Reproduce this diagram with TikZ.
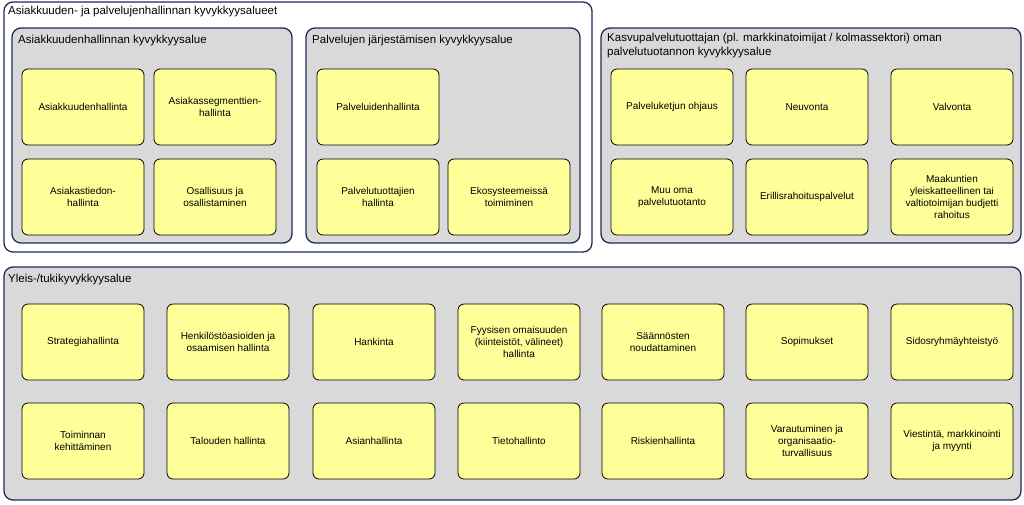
\documentclass[tikz,border=0pt]{standalone}
\usepackage{fontspec}
\setmainfont{Liberation Sans}
\usetikzlibrary{positioning}
\definecolor{navy}{HTML}{1F2A5C}
\definecolor{areagray}{HTML}{D9D9D9}
\definecolor{capyellow}{HTML}{FFFF99}
\tikzset{
  area/.style={draw=navy, line width=1.3pt, fill=areagray, rounded corners=9pt},
  capcell/.style={draw=black, line width=0.8pt, fill=capyellow, rounded corners=6pt,
    minimum width=122pt, minimum height=76pt, align=center,
    font=\fontsize{10}{12}\selectfont},
  areatitle/.style={anchor=north west, font=\fontsize{11.5}{14}\selectfont, inner sep=0pt, align=left}
}
\newcommand{\capbox}[4]{\node[capcell] (#1) at (#2,#3) {#4};}
\begin{document}
\begin{tikzpicture}[x=1pt,y=-1pt]
  \useasboundingbox (0,0) rectangle (1024,504);
  % asiakkuus- ja palvelualueet
  \draw[draw=navy, line width=1.3pt, fill=white, rounded corners=9pt] (4,2) rectangle (592,252);
  \node[areatitle] (t0) at (8,6) {Asiakkuuden- ja palvelujenhallinnan kyvykkyysalueet};
  \draw[area] (12,28) rectangle (292,243);
  \node[areatitle] (tA) at (18,35) {Asiakkuudenhallinnan kyvykkyysalue};
  \draw[area] (306,28) rectangle (580,243);
  \node[areatitle] (tB) at (312,35) {Palvelujen järjestämisen kyvykkyysalue};
  \draw[area] (601,28) rectangle (1021,243);
  \node[areatitle] (tC) at (607,33) {Kasvupalvelutuottajan (pl. markkinatoimijat / kolmassektori) oman\\palvelutuotannon kyvykkyysalue};
  \draw[area] (4,267) rectangle (1021,500);
  \node[areatitle] (tD) at (8,274) {Yleis-/tukikyvykkyysalue};

  \capbox{a1}{83}{107}{Asiakkuudenhallinta}
  \capbox{a2}{215}{107}{Asiakassegmenttien-\\hallinta}
  \capbox{a3}{83}{197}{Asiakastiedon-\\hallinta}
  \capbox{a4}{215}{197}{Osallisuus ja\\osallistaminen}

  \capbox{b1}{378}{107}{Palveluidenhallinta}
  \capbox{b2}{378}{197}{Palvelutuottajien\\hallinta}
  \capbox{b3}{509}{197}{Ekosysteemeissä\\toimiminen}

  \capbox{c1}{672}{107}{Palveluketjun ohjaus}
  \capbox{c2}{807}{107}{Neuvonta}
  \capbox{c3}{952}{107}{Valvonta}
  \capbox{c4}{672}{197}{Muu oma\\palvelutuotanto}
  \capbox{c5}{807}{197}{Erillisrahoituspalvelut}
  \capbox{c6}{952}{197}{Maakuntien\\yleiskatteellinen tai\\valtiotoimijan budjetti\\rahoitus}

  \capbox{d1}{83}{342}{Strategiahallinta}
  \capbox{d2}{228}{342}{Henkilöstöasioiden ja\\osaamisen hallinta}
  \capbox{d3}{374}{342}{Hankinta}
  \capbox{d4}{519}{342}{Fyysisen omaisuuden\\(kiinteistöt, välineet)\\hallinta}
  \capbox{d5}{663}{342}{Säännösten\\noudattaminen}
  \capbox{d6}{807}{342}{Sopimukset}
  \capbox{d7}{952}{342}{Sidosryhmäyhteistyö}
  \capbox{d8}{83}{441}{Toiminnan\\kehittäminen}
  \capbox{d9}{228}{441}{Talouden hallinta}
  \capbox{d10}{374}{441}{Asianhallinta}
  \capbox{d11}{519}{441}{Tietohallinto}
  \capbox{d12}{663}{441}{Riskienhallinta}
  \capbox{d13}{807}{441}{Varautuminen ja\\organisaatio-\\turvallisuus}
  \capbox{d14}{952}{441}{Viestintä, markkinointi\\ja myynti}
\end{tikzpicture}
\end{document}
